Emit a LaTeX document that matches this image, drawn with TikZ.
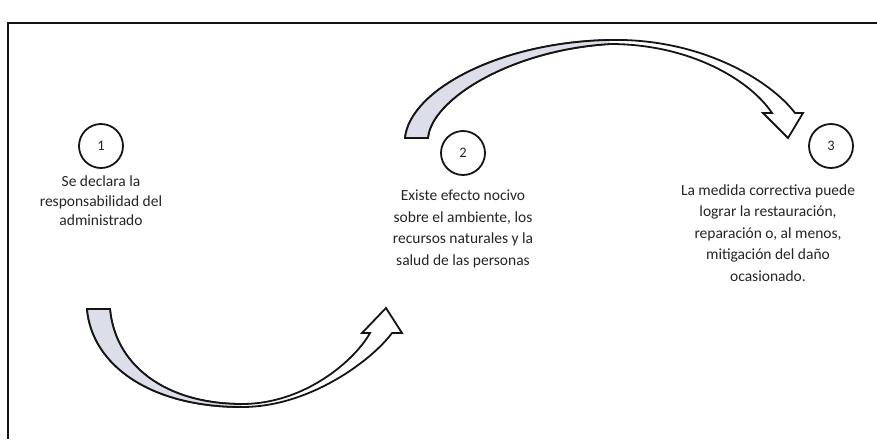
\documentclass[tikz,border=0pt]{standalone}
\usepackage{fontspec}
\setmainfont{Carlito}
\definecolor{inkc}{HTML}{151515}
\definecolor{txtc}{HTML}{252525}
\definecolor{shade}{HTML}{DCDFEA}
\begin{document}
\begin{tikzpicture}[x=1pt,y=-1pt,
  numc/.style={draw=inkc,line width=1.8pt,circle,minimum size=44pt,inner sep=0pt,
    font=\fontsize{14.5}{16}\selectfont,text=txtc},
  lbl/.style={align=center,text=txtc,inner sep=0pt},
  band/.style={draw=inkc,line width=1.8pt,line join=miter,fill=white},
  bandshade/.style={fill=shade,draw=none}]
\useasboundingbox (0,0) rectangle (877,439);
\fill[white] (0,0) rectangle (877,439);
% frame
\draw[inkc,line width=2.8pt] (8,23) -- (877,23);
\draw[inkc,line width=2pt] (8,22) -- (8,439);
% circles
\node[numc] (c1) at (101,146) {1};
\node[numc] (c2) at (463,153) {2};
\node[numc] (c3) at (831,146) {3};
% texts
\node[lbl,font=\fontsize{15.5}{19.5}\selectfont] (t1) at (101,201) {Se declara la\\responsabilidad del\\administrado};
\node[lbl,font=\fontsize{15.5}{21.5}\selectfont] (t2) at (463,229) {Existe efecto nocivo\\sobre el ambiente, los\\recursos naturales y la\\salud de las personas};
\node[lbl,font=\fontsize{15.5}{21.5}\selectfont] (t3) at (768,233) {La medida correctiva puede\\lograr la restauración,\\reparación o, al menos,\\mitigación del daño\\ocasionado.};
% bottom curved arrow (1 -> 2)
\coordinate (a0) at (87,309);
\coordinate (a1) at (110,309);
\coordinate (ab) at (242,407);
\coordinate (ab2) at (242,404);
\draw[band] (a0) .. controls (92,365) and (150,407) .. (ab)
  .. controls (310,407) and (372,360) .. (392,333)
  -- (402,333) -- (386,308) -- (362,333) -- (370,333)
  .. controls (355,360) and (305,404) .. (ab2)
  .. controls (165,404) and (115,365) .. (a1) -- cycle;
\fill[bandshade] (a0) .. controls (92,365) and (150,407) .. (ab)
  -- (ab2) .. controls (165,404) and (115,365) .. (a1) -- cycle;
\draw[inkc,line width=1.8pt] (a0) .. controls (92,365) and (150,407) .. (ab);
\draw[inkc,line width=1.8pt,line join=miter] (ab2) .. controls (165,404) and (115,365) .. (a1) -- (a0);
% top curved arrow (2 -> 3)
\coordinate (b0) at (405,138);
\coordinate (b1) at (428,138);
\coordinate (bt) at (610,40);
\coordinate (bt2) at (610,44);
\draw[band] (b0) .. controls (410,90) and (500,42) .. (bt)
  .. controls (700,38) and (770,80) .. (795,113)
  -- (803,113) -- (788,138) -- (763,113) -- (772,113)
  .. controls (750,80) and (690,44) .. (bt2)
  .. controls (510,50) and (431,100) .. (b1) -- cycle;
\fill[bandshade] (b0) .. controls (410,90) and (500,42) .. (bt)
  -- (bt2) .. controls (510,50) and (431,100) .. (b1) -- cycle;
\draw[inkc,line width=1.8pt] (b0) .. controls (410,90) and (500,42) .. (bt);
\draw[inkc,line width=1.8pt,line join=miter] (bt2) .. controls (510,50) and (431,100) .. (b1) -- (b0);
\end{tikzpicture}
\end{document}
